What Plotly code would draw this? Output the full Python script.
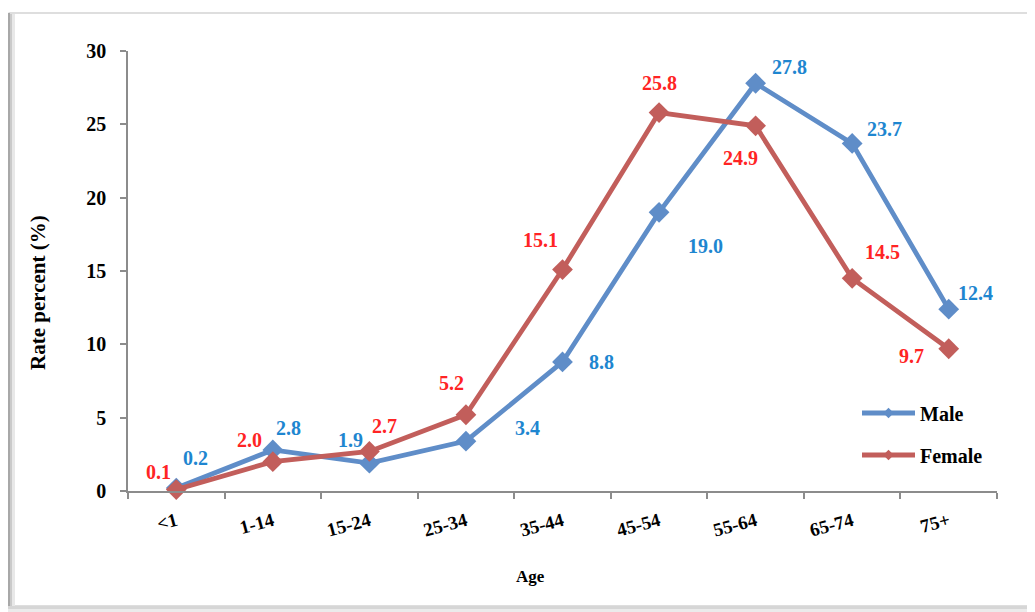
import plotly.graph_objects as go

# ---- data ----
categories = ["<1", "1-14", "15-24", "25-34", "35-44", "45-54", "55-64", "65-74", "75+"]
male = [0.2, 2.8, 1.9, 3.4, 8.8, 19.0, 27.8, 23.7, 12.4]
female = [0.1, 2.0, 2.7, 5.2, 15.1, 25.8, 24.9, 14.5, 9.7]
y_ticks = [0, 5, 10, 15, 20, 25, 30]

# ---- label offsets (pixels) ----
male_dx = [19, 16, -19, 62, 39, 46, 34, 32, 27]
male_dy = [30, 22, 23, 13, 0, -34, 16, 14, 16]
female_dx = [-18, -23, 15, -14, -22, 0, -15, 30, -37]
female_dy = [18, 22, 25, 32, 30, 30, -32, 26, -7]

OFF = 8  # page body margin
W, H = 1035 - OFF, 612 - OFF
ML, MR, MT, MB = 128 - OFF, 38, 51 - OFF, 121
PW, PH = W - ML - MR, H - MT - MB


def px(x):
    """page pixel x -> paper coordinate"""
    return (x - OFF - ML) / PW


def py(y):
    """page pixel y -> paper coordinate"""
    return (H - MB - (y - OFF)) / PH


FONT = "Liberation Serif, Times New Roman, serif"
MALE_LINE = "#5F8DC8"
FEMALE_LINE = "#C25E5B"
MALE_TXT = "#1E86D0"
FEMALE_TXT = "#FF2424"

fig = go.Figure()

fig.add_trace(go.Scatter(
    x=categories, y=male, mode="lines+markers", name="Male",
    line=dict(color=MALE_LINE, width=4.8),
    marker=dict(symbol="diamond", size=16, color=MALE_LINE),
    cliponaxis=False, showlegend=False,
))
fig.add_trace(go.Scatter(
    x=categories, y=female, mode="lines+markers", name="Female",
    line=dict(color=FEMALE_LINE, width=4.8),
    marker=dict(symbol="diamond", size=16, color=FEMALE_LINE),
    cliponaxis=False, showlegend=False,
))
# legend entries
fig.add_trace(go.Scatter(
    x=[None], y=[None], mode="lines+markers", name="Male",
    line=dict(color=MALE_LINE, width=4.8),
    marker=dict(symbol="diamond", size=8, color=MALE_LINE),
    legend="legend",
))
fig.add_trace(go.Scatter(
    x=[None], y=[None], mode="lines+markers", name="Female",
    line=dict(color=FEMALE_LINE, width=4.8),
    marker=dict(symbol="diamond", size=8, color=FEMALE_LINE),
    legend="legend2",
))

annotations = []
for c, v, dx, dy in zip(categories, male, male_dx, male_dy):
    annotations.append(dict(x=c, y=v, xref="x", yref="y", text=f"{v:.1f}", showarrow=False,
                            xshift=dx, yshift=dy,
                            font=dict(family=FONT, size=20, color=MALE_TXT, weight="bold")))
for c, v, dx, dy in zip(categories, female, female_dx, female_dy):
    annotations.append(dict(x=c, y=v, xref="x", yref="y", text=f"{v:.1f}", showarrow=False,
                            xshift=dx, yshift=dy,
                            font=dict(family=FONT, size=20, color=FEMALE_TXT, weight="bold")))

# y-axis title
annotations.append(dict(x=px(38), y=py(293), xref="paper", yref="paper", text="Rate percent (%)",
                        showarrow=False, textangle=-90, xanchor="center", yanchor="middle",
                        font=dict(family=FONT, size=21, color="#000000", weight="bold")))
# x-axis title
annotations.append(dict(x=px(530), y=py(576), xref="paper", yref="paper", text="Age",
                        showarrow=False, xanchor="center", yanchor="middle",
                        font=dict(family=FONT, size=17, color="#000000", weight="bold")))

shapes = [
    # frame
    dict(type="rect", xref="paper", yref="paper", x0=px(8.5), x1=px(1033), y0=py(13), y1=py(606),
         fillcolor="#FFFFFF", line=dict(color="#BDBDBD", width=1), layer="below"),
    # left shadow
    dict(type="rect", xref="paper", yref="paper", x0=px(8), x1=px(10), y0=py(13), y1=py(612),
         fillcolor="#A8A8A8", line=dict(width=0), layer="below"),
    dict(type="rect", xref="paper", yref="paper", x0=px(10), x1=px(12), y0=py(14), y1=py(612),
         fillcolor="#CACACA", line=dict(width=0), layer="below"),
    dict(type="rect", xref="paper", yref="paper", x0=px(12), x1=px(15), y0=py(14), y1=py(612),
         fillcolor="#E8E8E8", line=dict(width=0), layer="below"),
    # bottom shadow
    dict(type="rect", xref="paper", yref="paper", x0=px(8), x1=px(1033), y0=py(606), y1=py(609),
         fillcolor="#D6D6D6", line=dict(width=0), layer="below"),
    dict(type="rect", xref="paper", yref="paper", x0=px(8), x1=px(1033), y0=py(609), y1=py(612),
         fillcolor="#EBEBEB", line=dict(width=0), layer="below"),
]

fig.update_layout(
    width=W, height=H,
    margin=dict(l=ML, r=MR, t=MT, b=MB, pad=0),
    paper_bgcolor="#FFFFFF", plot_bgcolor="rgba(0,0,0,0)",
    font=dict(family=FONT, color="#000000"),
    annotations=annotations,
    shapes=shapes,
    legend=dict(x=px(857), y=py(413), xanchor="left", yanchor="middle",
                bgcolor="rgba(0,0,0,0)", itemwidth=53,
                font=dict(family=FONT, size=20, color="#000000", weight="bold")),
    legend2=dict(x=px(857), y=py(455), xanchor="left", yanchor="middle",
                 bgcolor="rgba(0,0,0,0)", itemwidth=53,
                 font=dict(family=FONT, size=20, color="#000000", weight="bold")),
)

fig.update_xaxes(
    type="category", categoryorder="array", categoryarray=categories,
    range=[-0.5, len(categories) - 0.5],
    tickson="boundaries", ticks="outside", ticklen=6, tickcolor="#8C8C8C", tickwidth=1.5,
    showline=True, linecolor="#8C8C8C", linewidth=1.5,
    showgrid=False, zeroline=False,
    tickangle=-15, ticklabelstandoff=10,
    tickfont=dict(family=FONT, size=19, color="#000000", weight="bold"),
)
fig.update_yaxes(
    range=[0, 30], tickvals=y_ticks, ticks="outside", ticklen=6,
    tickcolor="#8C8C8C", tickwidth=1.5,
    showline=True, linecolor="#8C8C8C", linewidth=1.5,
    showgrid=False, zeroline=False, ticklabelstandoff=10,
    tickfont=dict(family=FONT, size=20, color="#000000", weight="bold"),
)

fig.write_html("out.html")
